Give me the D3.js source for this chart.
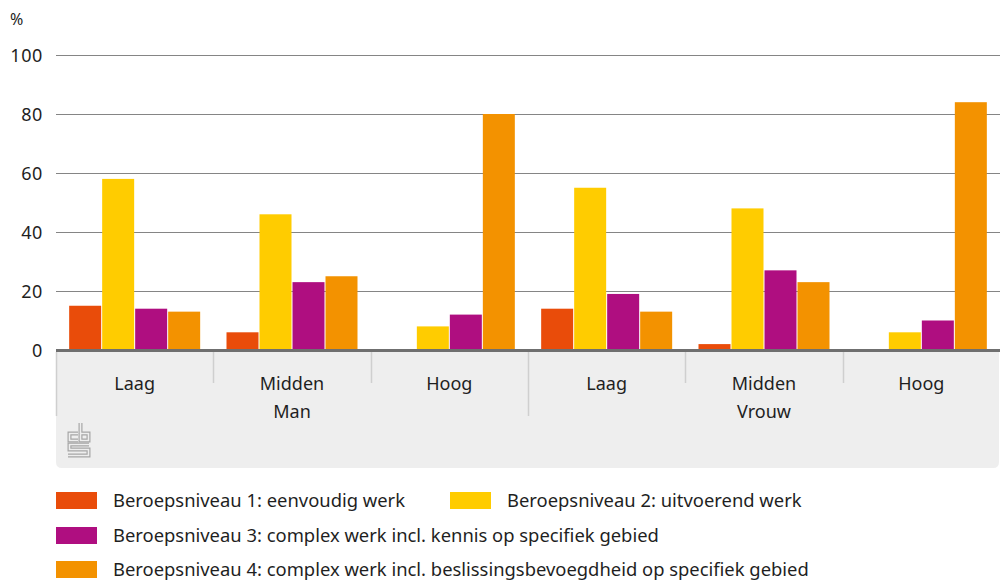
<!DOCTYPE html>
<html>
<head>
<meta charset="utf-8">
<script src="https://cdn.jsdelivr.net/npm/d3@7"></script>
<style>
  body { margin: 0; background: #fff; }
  svg { display: block; font-family: "Noto Sans", sans-serif; }
  text { fill: #1f1f1f; }
</style>
</head>
<body>
<svg width="1000" height="580"></svg>
<script>
const width = 1000;
const height = 580;

// data
const categories = ["Laag", "Midden", "Hoog", "Laag", "Midden", "Hoog"];
const genders = ["Man", "Vrouw"];
const seriesNames = [
  "Beroepsniveau 1: eenvoudig werk",
  "Beroepsniveau 2: uitvoerend werk",
  "Beroepsniveau 3: complex werk incl. kennis op specifiek gebied",
  "Beroepsniveau 4: complex werk incl. beslissingsbevoegdheid op specifiek gebied"
];
const niveau1 = [15, 6, 0, 14, 2, 0];
const niveau2 = [58, 46, 8, 55, 48, 6];
const niveau3 = [14, 23, 12, 19, 27, 10];
const niveau4 = [13, 25, 80, 13, 23, 84];
const colors = ["#e94c0a", "#ffcc00", "#af0e80", "#f39200"];
const yTicks = [0, 20, 40, 60, 80, 100];

const values = [niveau1, niveau2, niveau3, niveau4];
const groups = categories.map((c, i) => ({
  key: i,
  label: c,
  vals: values.map((v, s) => ({ s, v: v[i] }))
}));

const mLeft = 56, mRight = 1000, mTop = 55, base = 350;

const svg = d3.select('svg');

const x0 = d3.scaleBand()
  .domain(d3.range(categories.length))
  .range([mLeft, mRight]);

const x1 = d3.scaleBand()
  .domain(d3.range(4))
  .range([0, x0.bandwidth()])
  .paddingInner(1 / 33)
  .paddingOuter(0.399);

const y = d3.scaleLinear().domain([0, 100]).range([base, mTop]);

// grid
svg.append("g")
  .selectAll("line")
  .data(yTicks.filter(d => d > 0))
  .join("line")
    .attr("x1", mLeft)
    .attr("x2", mRight)
    .attr("y1", d => Math.round(y(d)) + 0.5)
    .attr("y2", d => Math.round(y(d)) + 0.5)
    .attr("stroke", "#858585")
    .attr("stroke-width", 1.2);

// y labels
svg.append("g")
  .selectAll("text")
  .data(yTicks)
  .join("text")
    .attr("x", 43)
    .attr("y", d => y(d) + 6.5)
    .attr("text-anchor", "end")
    .attr("font-size", 18)
    .attr("letter-spacing", 0.6)
    .text(d => d);

svg.append("text")
  .attr("x", 10)
  .attr("y", 25)
  .attr("font-size", 16)
  .text("%");

// gray category band
const bandTop = 352, bandBot = 468, r = 6;
svg.append("path")
  .attr("d", `M${mLeft},${bandTop}H${mRight - 1}V${bandBot - r}Q${mRight - 1},${bandBot} ${mRight - 1 - r},${bandBot}H${mLeft + r}Q${mLeft},${bandBot} ${mLeft},${bandBot - r}Z`)
  .attr("fill", "#eeeeee");

// bars
svg.append("g")
  .selectAll("g")
  .data(groups)
  .join("g")
    .attr("transform", d => `translate(${x0(d.key)},0)`)
  .selectAll("rect")
  .data(d => d.vals)
  .join("rect")
    .attr("x", d => x1(d.s))
    .attr("y", d => y(d.v))
    .attr("width", x1.bandwidth())
    .attr("height", d => base - y(d.v))
    .attr("fill", d => colors[d.s]);

// zero axis line
svg.append("line")
  .attr("x1", mLeft).attr("x2", mRight)
  .attr("y1", base + 0.5).attr("y2", base + 0.5)
  .attr("stroke", "#6f6f6f")
  .attr("stroke-width", 3);

// separators
svg.append("g")
  .selectAll("line")
  .data(d3.range(categories.length))
  .join("line")
    .attr("x1", i => Math.round(x0(i)) + 0.5)
    .attr("x2", i => Math.round(x0(i)) + 0.5)
    .attr("y1", bandTop)
    .attr("y2", i => (i % 3 === 0) ? 416 : 383)
    .attr("stroke", "#cfcfcf")
    .attr("stroke-width", 1.5);

// category labels
svg.append("g")
  .selectAll("text")
  .data(groups)
  .join("text")
    .attr("x", d => x0(d.key) + x0.bandwidth() / 2)
    .attr("y", 390)
    .attr("text-anchor", "middle")
    .attr("font-size", 18)
    .text(d => d.label);

svg.append("g")
  .selectAll("text")
  .data(genders)
  .join("text")
    .attr("x", (d, i) => x0(i * 3 + 1) + x0.bandwidth() / 2)
    .attr("y", 418)
    .attr("text-anchor", "middle")
    .attr("font-size", 18)
    .text(d => d);

// cbs logo (rough)
const logo = svg.append("g").attr("fill", "none").attr("stroke-linejoin", "miter");
const logoPaths = [
  "M78,433.5H69.5V440.5H78",
  "M80.5,423V440.5H88.5V433.5H80.5",
  "M89,444.5H69.5V449.5H88.5V455.5H68"
];
logoPaths.forEach(p => {
  logo.append("path").attr("d", p).attr("stroke", "#a6a6a6").attr("stroke-width", 4);
  logo.append("path").attr("d", p).attr("stroke", "#eeeeee").attr("stroke-width", 1.6);
});

// legend
const legendPos = [
  { x: 56, y: 492 }, { x: 450, y: 492 },
  { x: 56, y: 527 }, { x: 56, y: 561 }
];
const legend = svg.append("g")
  .selectAll("g")
  .data(seriesNames)
  .join("g")
    .attr("transform", (d, i) => `translate(${legendPos[i].x},${legendPos[i].y})`);

legend.append("rect")
  .attr("width", 41)
  .attr("height", 17)
  .attr("fill", (d, i) => colors[i]);

legend.append("text")
  .attr("x", 57)
  .attr("y", 14.5)
  .attr("font-size", 18.4)
  .text(d => d);
</script>
</body>
</html>
